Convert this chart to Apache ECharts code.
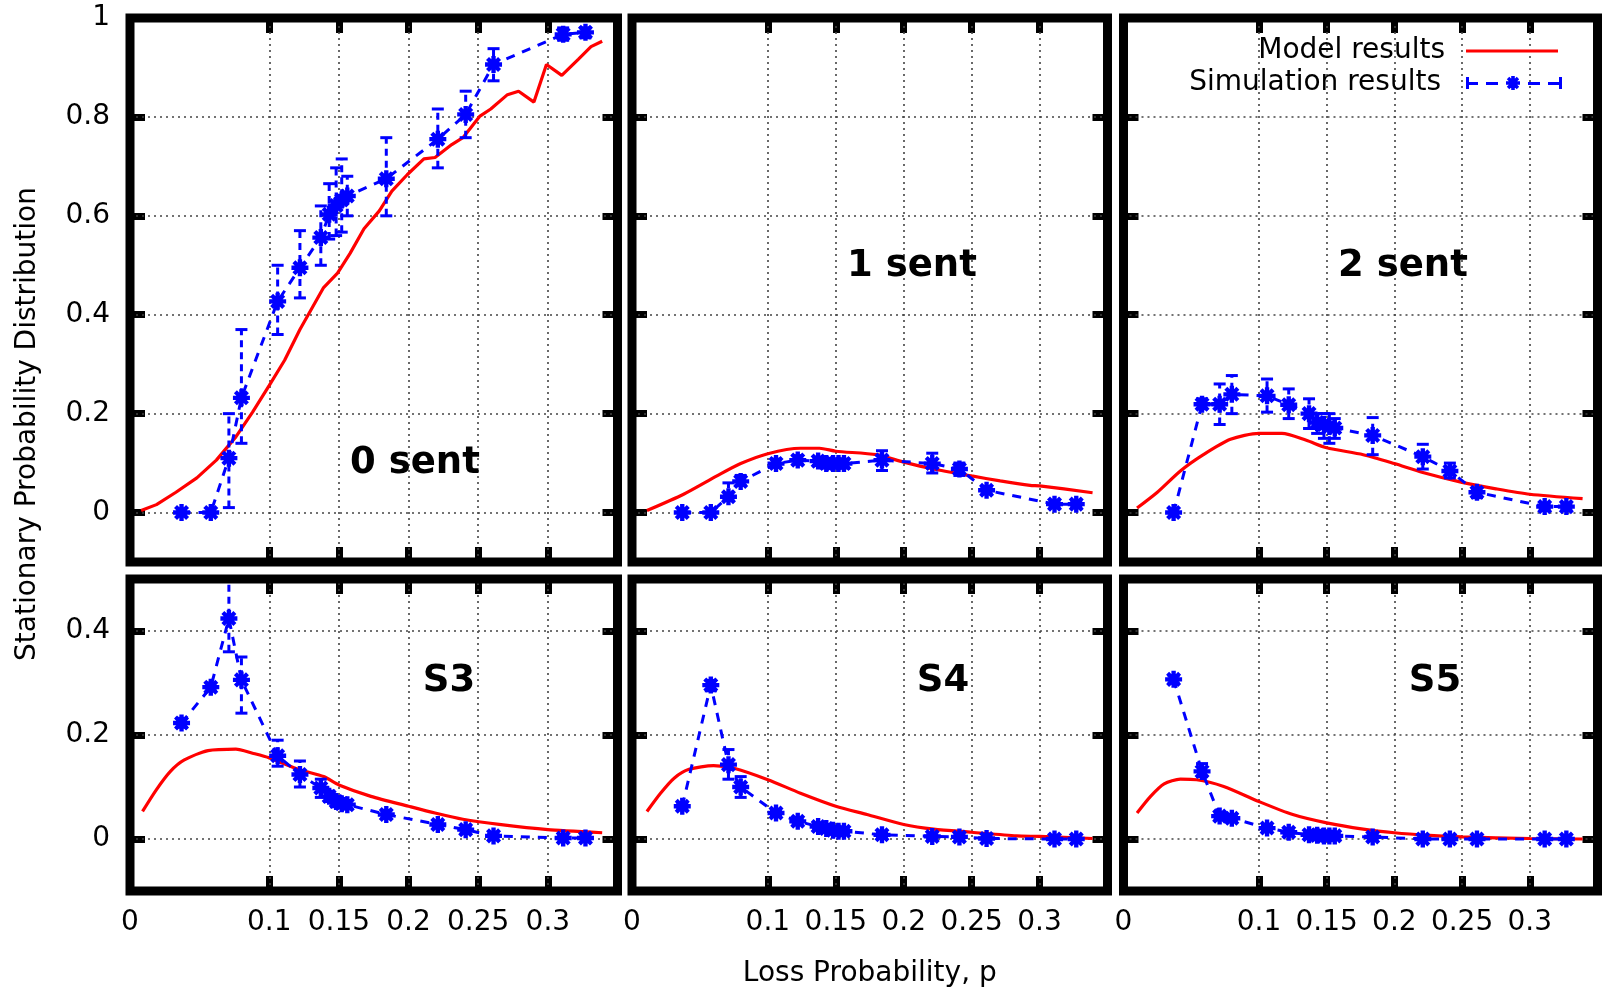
<!DOCTYPE html>
<html><head><meta charset="utf-8">
<script src="https://cdn.jsdelivr.net/npm/echarts@6/dist/echarts.min.js"></script>
<style>html,body{margin:0;padding:0;background:#fff}#c{width:1602px;height:990px}</style>
</head><body><div id="c"></div>
<script>
// ---------------- data ----------------
const panelNames = ['0 sent', '1 sent', '2 sent', 'S3', 'S4', 'S5'];
const xTickVals = [0.1, 0.15, 0.2, 0.25, 0.3];
const xLabelVals = [0, 0.1, 0.15, 0.2, 0.25, 0.3];
const yTickTop = [0, 0.2, 0.4, 0.6, 0.8, 1];
const yTickBottom = [0, 0.2, 0.4];
const xRange = [0, 0.35];
const yRangeTop = [-0.1, 1];
const yRangeBottom = [-0.1, 0.5];

// simulation x positions (shared by all panels)
const simX = [0.037, 0.058, 0.071, 0.080, 0.106, 0.122, 0.137, 0.143, 0.148, 0.152, 0.156, 0.184, 0.221, 0.241, 0.261, 0.311, 0.327];

// 0 sent
const sim0   = [0, 0, 0.11, 0.232, 0.427, 0.495, 0.556, 0.603, 0.621, 0.632, 0.64, 0.675, 0.755, 0.805, 0.906, 0.967, 0.971];
const sim0Lo = [0, 0, 0.01, 0.14, 0.36, 0.434, 0.50, 0.553, 0.56, 0.567, 0.60, 0.60, 0.697, 0.758, 0.873, 0.955, 0.96];
const sim0Hi = [0, 0, 0.20, 0.37, 0.50, 0.57, 0.62, 0.665, 0.697, 0.715, 0.68, 0.758, 0.816, 0.852, 0.938, 0.98, 0.98];
const model0X = [0.008, 0.019, 0.033, 0.048, 0.062, 0.076, 0.088, 0.1, 0.111, 0.122, 0.139, 0.149, 0.158, 0.168, 0.179, 0.188, 0.199, 0.211, 0.219, 0.231, 0.239, 0.251, 0.259, 0.271, 0.279, 0.29, 0.299, 0.31, 0.322, 0.331, 0.339];
const model0  = [0.004, 0.016, 0.041, 0.07, 0.106, 0.153, 0.203, 0.257, 0.308, 0.37, 0.455, 0.484, 0.524, 0.574, 0.61, 0.65, 0.683, 0.715, 0.718, 0.744, 0.758, 0.801, 0.816, 0.845, 0.852, 0.83, 0.906, 0.884, 0.917, 0.942, 0.953];

// 1 sent
const sim1   = [0, 0, 0.032, 0.063, 0.099, 0.106, 0.104, 0.099, 0.099, 0.099, 0.099, 0.106, 0.099, 0.088, 0.045, 0.017, 0.017];
const sim1Lo = [0, 0, 0.025, 0.055, 0.092, 0.098, 0.095, 0.09, 0.09, 0.09, 0.09, 0.085, 0.08, 0.075, 0.038, 0.012, 0.012];
const sim1Hi = [0, 0, 0.06, 0.075, 0.108, 0.115, 0.112, 0.108, 0.108, 0.108, 0.108, 0.125, 0.12, 0.1, 0.052, 0.022, 0.022];
const model1X = [0.011, 0.038, 0.0625, 0.08, 0.1, 0.124, 0.138, 0.15, 0.18, 0.2, 0.222, 0.25, 0.271, 0.293, 0.3, 0.339];
const model1  = [0.004, 0.037, 0.074, 0.099, 0.119, 0.13, 0.13, 0.124, 0.117, 0.102, 0.088, 0.074, 0.064, 0.055, 0.054, 0.04];

// 2 sent
const sim2   = [0, 0.219, 0.219, 0.239, 0.236, 0.218, 0.2, 0.182, 0.178, 0.174, 0.171, 0.156, 0.113, 0.084, 0.041, 0.012, 0.012];
const sim2Lo = [0, 0.21, 0.178, 0.2, 0.203, 0.19, 0.17, 0.16, 0.15, 0.14, 0.15, 0.117, 0.088, 0.07, 0.03, 0.008, 0.008];
const sim2Hi = [0, 0.23, 0.26, 0.277, 0.27, 0.25, 0.23, 0.2, 0.2, 0.2, 0.19, 0.192, 0.138, 0.1, 0.05, 0.016, 0.016];
const model2X = [0.01, 0.025, 0.042, 0.059, 0.079, 0.1, 0.117, 0.135, 0.15, 0.177, 0.2, 0.221, 0.25, 0.275, 0.3, 0.339];
const model2  = [0.009, 0.041, 0.084, 0.117, 0.148, 0.16, 0.16, 0.146, 0.131, 0.117, 0.099, 0.081, 0.061, 0.048, 0.037, 0.028];

// S3
const sim3   = [0.223, 0.292, 0.424, 0.306, 0.16, 0.124, 0.098, 0.082, 0.072, 0.068, 0.066, 0.047, 0.028, 0.018, 0.006, 0.002, 0.002];
const sim3Lo = [0.215, 0.285, 0.36, 0.242, 0.14, 0.1, 0.08, 0.072, 0.062, 0.06, 0.058, 0.04, 0.022, 0.012, 0.002, 0, 0];
const sim3Hi = [0.232, 0.3, 0.55, 0.35, 0.19, 0.15, 0.115, 0.092, 0.082, 0.078, 0.074, 0.055, 0.034, 0.024, 0.01, 0.005, 0.005];
const model3X = [0.009, 0.019, 0.029, 0.039, 0.056, 0.076, 0.088, 0.1, 0.122, 0.139, 0.15, 0.173, 0.2, 0.219, 0.239, 0.265, 0.3, 0.339];
const model3  = [0.053, 0.095, 0.13, 0.152, 0.17, 0.173, 0.165, 0.156, 0.133, 0.12, 0.104, 0.082, 0.063, 0.05, 0.038, 0.028, 0.018, 0.012];

// S4
const sim4   = [0.063, 0.296, 0.143, 0.1, 0.05, 0.034, 0.024, 0.02, 0.017, 0.015, 0.015, 0.008, 0.005, 0.004, 0.001, 0, 0];
const sim4Lo = [0.058, 0.285, 0.115, 0.08, 0.044, 0.03, 0.02, 0.016, 0.014, 0.012, 0.012, 0.005, 0.002, 0.001, 0, 0, 0];
const sim4Hi = [0.068, 0.305, 0.172, 0.12, 0.056, 0.038, 0.028, 0.024, 0.02, 0.018, 0.018, 0.011, 0.008, 0.007, 0.003, 0.002, 0.002];
const model4X = [0.011, 0.021, 0.031, 0.042, 0.06, 0.075, 0.1, 0.124, 0.15, 0.173, 0.2, 0.222, 0.25, 0.283, 0.3, 0.339];
const model4  = [0.053, 0.088, 0.117, 0.134, 0.141, 0.136, 0.114, 0.088, 0.063, 0.047, 0.028, 0.019, 0.013, 0.006, 0.005, 0.001];

// S5
const sim5   = [0.307, 0.13, 0.044, 0.04, 0.021, 0.013, 0.008, 0.007, 0.006, 0.006, 0.006, 0.004, 0, 0, 0, 0, 0];
const sim5Lo = [0.3, 0.12, 0.038, 0.034, 0.017, 0.01, 0.005, 0.004, 0.003, 0.003, 0.003, 0.001, 0, 0, 0, 0, 0];
const sim5Hi = [0.314, 0.145, 0.05, 0.046, 0.025, 0.016, 0.011, 0.01, 0.009, 0.009, 0.009, 0.007, 0.002, 0.002, 0.002, 0.002, 0.002];
const model5X = [0.01, 0.02, 0.03, 0.042, 0.054, 0.074, 0.1, 0.125, 0.15, 0.177, 0.2, 0.226, 0.25, 0.3, 0.339];
const model5  = [0.05, 0.082, 0.106, 0.115, 0.114, 0.101, 0.072, 0.047, 0.031, 0.019, 0.012, 0.007, 0.004, 0.001, 0];

const simY   = [sim0, sim1, sim2, sim3, sim4, sim5];
const simLo  = [sim0Lo, sim1Lo, sim2Lo, sim3Lo, sim4Lo, sim5Lo];
const simHi  = [sim0Hi, sim1Hi, sim2Hi, sim3Hi, sim4Hi, sim5Hi];
const modelXs = [model0X, model1X, model2X, model3X, model4X, model5X];
const modelYs = [model0, model1, model2, model3, model4, model5];

// ---------------- layout ----------------
const FONT = 'DejaVu Sans';
const cols = [[130, 617.5], [632, 1107.5], [1123.5, 1597.5]];
const rows = [[18, 562], [579, 891]];
const labelPos = [[415, 463], [912, 266], [1403, 266], [449, 681], [943, 681], [1435, 681]];

const ASTER = 'path://M0,5.2H14V8.8H0Z M5.2,0H8.8V14H5.2Z M3.27,0.81L13.19,10.73L10.73,13.19L0.81,3.27Z M0.81,10.73L10.73,0.81L13.19,3.27L3.27,13.19Z';
const SIMICON = 'path://M0,1H3V13H0Z M0,6H12V9H0Z M20,6H32V9H20Z M40,5.2H54V8.8H40Z M45.2,0H48.8V14H45.2Z M43.27,0.81L53.19,10.73L50.73,13.19L40.81,3.27Z M40.81,10.73L50.73,0.81L53.19,3.27L43.27,13.19Z M62,6H74V9H62Z M82,6H96V9H82Z M93,1H96V13H93Z';

const grids = [], xAxes = [], yAxes = [], series = [], graphics = [];
const fmt = v => String(+(+v).toFixed(2));

function errRender(params, api) {
  const x = api.value(0), lo = api.value(1), hi = api.value(2);
  const a = api.coord([x, lo]), b = api.coord([x, hi]);
  const st = { stroke: '#0000ff', lineWidth: 3, fill: null };
  const w = 6;
  return { type: 'group', children: [
    { type: 'line', shape: { x1: a[0], y1: a[1], x2: b[0], y2: b[1] }, style: Object.assign({}, st, { lineDash: [7, 5] }) },
    { type: 'line', shape: { x1: a[0] - w, y1: a[1], x2: a[0] + w, y2: a[1] }, style: st },
    { type: 'line', shape: { x1: b[0] - w, y1: b[1], x2: b[0] + w, y2: b[1] }, style: st }
  ]};
}

for (let p = 0; p < 6; p++) {
  const r = Math.floor(p / 3), c = p % 3;
  const [L, R] = cols[c], [T, B] = rows[r];
  grids.push({ left: L, top: T, width: R - L, height: B - T, show: true, borderColor: '#000', borderWidth: 9, backgroundColor: 'transparent', z: 20 });
  const yTicks = r === 0 ? yTickTop : yTickBottom;
  const yR = r === 0 ? yRangeTop : yRangeBottom;
  const tickStyle = { inside: true, length: 15, lineStyle: { color: '#000', width: 7 } };
  const noLine = { show: false, onZero: false };
  const xb = {
    type: 'value', gridIndex: p, min: xRange[0], max: xRange[1], position: 'bottom',
    axisLine: noLine, splitLine: { show: false },
    axisTick: Object.assign({ customValues: xTickVals }, tickStyle),
    axisLabel: { show: r === 1, customValues: xLabelVals, formatter: fmt, fontFamily: FONT, fontSize: 28, color: '#000', margin: 18 }
  };
  if (p === 4) {
    Object.assign(xb, { name: 'Loss Probability, p', nameLocation: 'middle', nameGap: 69,
      nameTextStyle: { fontFamily: FONT, fontSize: 28, color: '#000' } });
  }
  xAxes.push(xb);
  xAxes.push({
    type: 'value', gridIndex: p, min: xRange[0], max: xRange[1], position: 'top',
    axisLine: noLine, splitLine: { show: false }, axisLabel: { show: false },
    axisTick: Object.assign({ customValues: xTickVals }, tickStyle)
  });
  yAxes.push({
    type: 'value', gridIndex: p, min: yR[0], max: yR[1], position: 'left',
    axisLine: noLine, splitLine: { show: false },
    axisTick: Object.assign({ customValues: yTicks }, tickStyle),
    axisLabel: { show: c === 0, customValues: yTicks, formatter: fmt, fontFamily: FONT, fontSize: 28, color: '#000', margin: 20 }
  });
  yAxes.push({
    type: 'value', gridIndex: p, min: yR[0], max: yR[1], position: 'right',
    axisLine: noLine, splitLine: { show: false }, axisLabel: { show: false },
    axisTick: Object.assign({ customValues: yTicks }, tickStyle)
  });
  const xi = 2 * p, yi = 2 * p;
  // dotted grid lines
  series.push({
    type: 'line', xAxisIndex: xi, yAxisIndex: yi, data: [], z: 1, silent: true,
    markLine: {
      silent: true, symbol: ['none', 'none'], label: { show: false }, animation: false, z: 1,
      lineStyle: { type: [2, 4], color: '#444', width: 1.6 },
      emphasis: { disabled: true },
      data: xTickVals.map(v => ({ xAxis: v })).concat(yTicks.filter(v => v < yR[1]).map(v => ({ yAxis: v })))
    }
  });
  // model
  series.push({
    name: 'Model results', type: 'line', xAxisIndex: xi, yAxisIndex: yi, z: 10,
    data: modelXs[p].map((x, i) => [x, modelYs[p][i]]),
    showSymbol: false, symbol: 'none', smooth: p === 0 ? false : 0.25,
    itemStyle: { color: '#ff0000' },
    lineStyle: { color: '#ff0000', width: 3.2 }, clip: true
  });
  // simulation line + markers
  series.push({
    name: 'Simulation results', type: 'line', xAxisIndex: xi, yAxisIndex: yi, z: 12,
    data: simX.map((x, i) => [x, simY[p][i]]),
    symbol: ASTER, symbolSize: 17, showSymbol: true,
    itemStyle: { color: '#0000ff' },
    lineStyle: { color: '#0000ff', width: 3, type: [9, 8] }, clip: true
  });
  // error bars
  series.push({
    type: 'custom', xAxisIndex: xi, yAxisIndex: yi, z: 11, clip: true, silent: true,
    data: simX.map((x, i) => [x, simLo[p][i], simHi[p][i]]),
    encode: { x: 0, y: [1, 2] },
    renderItem: errRender
  });
  graphics.push({
    type: 'text', x: labelPos[p][0], y: labelPos[p][1], z: 30,
    style: { text: panelNames[p], fontFamily: FONT, fontWeight: 'bold', fontSize: 37, fill: '#000', align: 'center', verticalAlign: 'middle' }
  });
}

graphics.push({
  type: 'text', x: 28, y: 424, rotation: Math.PI / 2, z: 30,
  style: { text: 'Stationary Probability Distribution', fontFamily: FONT, fontSize: 28, fill: '#000', align: 'center', verticalAlign: 'middle' }
});

const option = {
  animation: false,
  backgroundColor: '#fff',
  textStyle: { fontFamily: FONT },
  grid: grids, xAxis: xAxes, yAxis: yAxes, series: series, graphic: graphics,
  legend: [
    { data: ['Model results'], right: 44, top: 37, padding: 0, align: 'right', selectedMode: false,
      icon: 'rect', itemWidth: 92, itemHeight: 3,
      textStyle: { fontFamily: FONT, fontSize: 28, color: '#000', padding: [0, 16, 0, 0] } },
    { data: ['Simulation results'], right: 40, top: 69, padding: 0, align: 'right', selectedMode: false,
      icon: SIMICON, itemWidth: 96, itemHeight: 14,
      textStyle: { fontFamily: FONT, fontSize: 28, color: '#000', padding: [0, 20, 0, 0] } }
  ]
};
const chart = echarts.init(document.getElementById('c'), null, { renderer: 'canvas' });
chart.setOption(option);
</script></body></html>
